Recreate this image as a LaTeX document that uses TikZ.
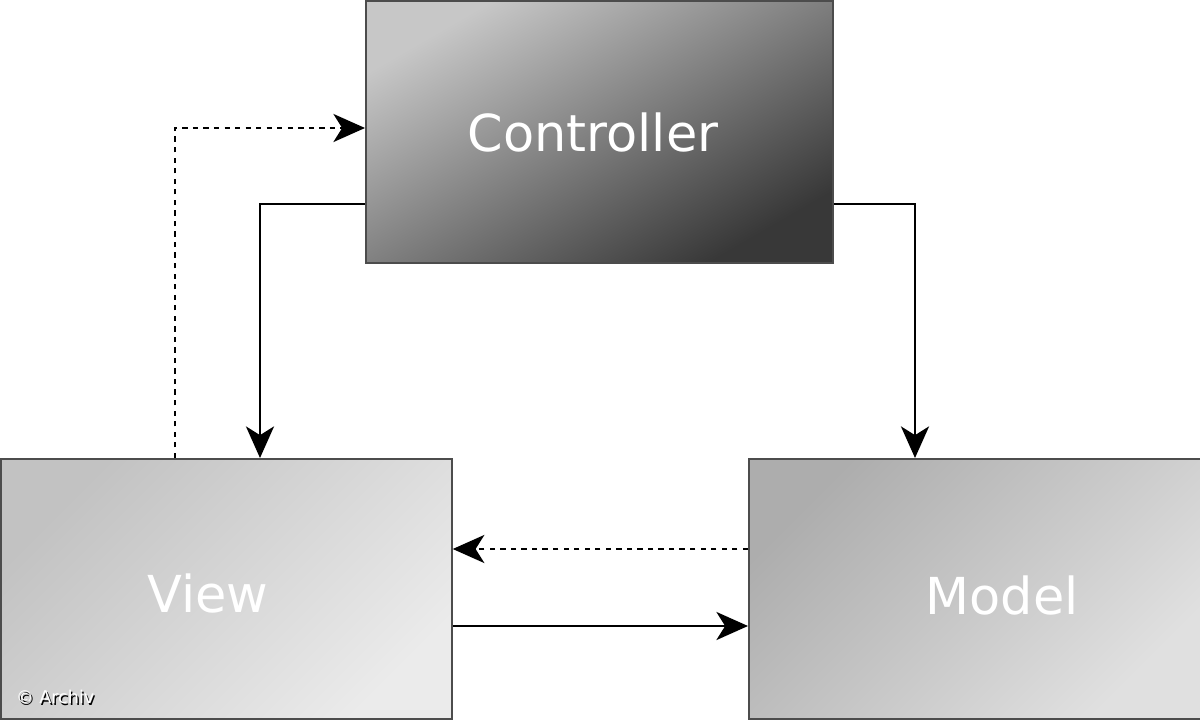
\documentclass[tikz,border=0pt]{standalone}
\usepackage{fontspec}
\setmainfont{DejaVu Sans}
\usetikzlibrary{arrows.meta}
\begin{document}
\begin{tikzpicture}[x=0.02cm,y=-0.02cm,
  box/.style={draw=black!70,line width=1pt,inner sep=0pt,anchor=north west},
  lbl/.style={text=white,font=\fontsize{29pt}{32pt}\selectfont},
  conn/.style={line width=1.2pt,-{Stealth[length=18pt,width=16pt,inset=5pt]}},
  dconn/.style={conn,dashed}]
\useasboundingbox (0,0) rectangle (1200,720);
\fill[white] (0,0) rectangle (1200,720);
\node[box,minimum width=467*0.02cm,minimum height=262*0.02cm,top color=black!22,bottom color=black!78,shading angle=30] (C) at (365,0) {};
\node[box,minimum width=451*0.02cm,minimum height=260*0.02cm,left color=black!24,right color=black!8,shading angle=45] (V) at (0,458) {};
\node[box,minimum width=452*0.02cm,minimum height=260*0.02cm,left color=black!32,right color=black!12,shading angle=45] (M) at (748,458) {};
\node[lbl] (Ct) at (593,133) {Controller};
\node[lbl] (Vt) at (208,593) {View};
\node[lbl] (Mt) at (1002,595) {Model};
\coordinate (a1) at (175,128);
\draw[dconn] (V.north west) ++(175,0) |- (C.west |- a1);
\coordinate (a2) at (260,204);
\draw[conn] (C.west |- a2) -- (a2) -- (V.north west -| a2);
\coordinate (a3) at (915,204);
\draw[conn] (C.east |- a3) -- (a3) -- (M.north west -| a3);
\coordinate (a4) at (0,549);
\draw[dconn] (M.west |- a4) -- (V.east |- a4);
\coordinate (a5) at (0,626);
\draw[conn] (V.east |- a5) -- (M.west |- a5);
\node[font=\fontsize{10pt}{12pt}\selectfont,text=black,anchor=west] (cs) at (11.5,698.5) {© Archiv};
\node[font=\fontsize{10pt}{12pt}\selectfont,text=white,anchor=west] (c) at (10,697) {© Archiv};
\end{tikzpicture}
\end{document}
